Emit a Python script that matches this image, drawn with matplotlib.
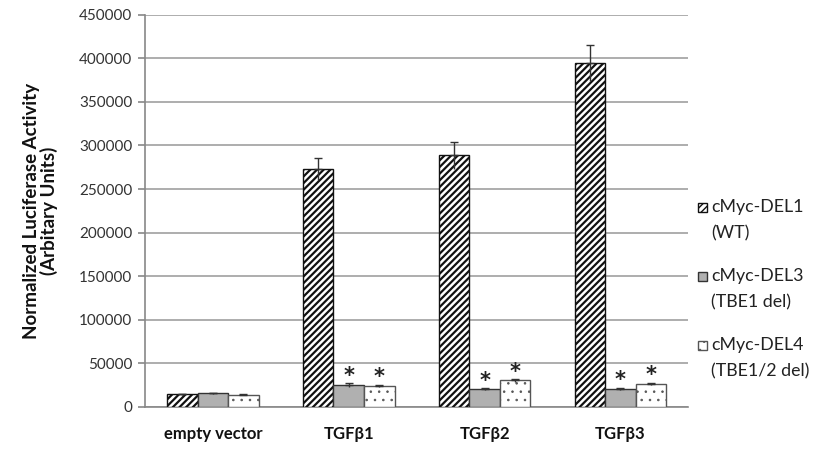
import matplotlib
matplotlib.use("Agg")
import matplotlib.pyplot as plt
from matplotlib.patches import Rectangle
import numpy as np

plt.rcParams['font.family'] = ['Lato', 'DejaVu Sans']

categories = ["empty vector", "TGF\u03b21", "TGF\u03b22", "TGF\u03b23"]
series_names = ["cMyc-DEL1\n(WT)", "cMyc-DEL3\n(TBE1 del)", "cMyc-DEL4\n(TBE1/2 del)"]
del1 = [14300, 273000, 288500, 394700]
del3 = [15400, 25000, 20300, 20700]
del4 = [13800, 23800, 30300, 26000]
del1_err = [800, 13000, 15500, 20500]
del3_err = [700, 1800, 1200, 1200]
del4_err = [700, 1500, 1500, 1500]
significant3 = [False, True, True, True]
significant4 = [False, True, True, True]
yticks = [0, 50000, 100000, 150000, 200000, 250000, 300000, 350000, 400000, 450000]

W, H = 822, 449
fig = plt.figure(figsize=(W / 100, H / 100), dpi=100)
ax = fig.add_axes([0.1764, 0.094, 0.661, 0.873])

x = np.arange(len(categories))
w = 0.225
styles = [
    dict(facecolor="white", hatch="/////", edgecolor="#111111"),
    dict(facecolor="#b0b0b0", hatch="", edgecolor="#333333"),
    dict(facecolor="white", hatch="..", edgecolor="#555555"),
]
hatch_lw = [1.6, 1.0, 0.6]
vals = [del1, del3, del4]
errs = [del1_err, del3_err, del4_err]
for i, (v, e, st) in enumerate(zip(vals, errs, styles)):
    pos = x + (i - 1) * w
    with plt.rc_context({'hatch.linewidth': hatch_lw[i]}):
        ax.bar(pos, v, width=w, linewidth=1.0, zorder=3, **st)
    e = np.array(e)
    ax.errorbar(pos, v, yerr=[np.zeros_like(e), e], fmt="none", ecolor="#333333",
                elinewidth=1.0, capsize=3, capthick=1.0, zorder=4)
    ax.errorbar(pos, v, yerr=[e, np.zeros_like(e)], fmt="none", ecolor="#333333",
                elinewidth=1.0, capsize=0, zorder=4)

star_kw = dict(ha="center", va="center", fontsize=15, fontweight="bold",
               color="#222222", zorder=5, family="DejaVu Sans")
for i, sig in enumerate(significant3):
    if sig:
        ax.text(x[i], del3[i] + del3_err[i] + 8500, "*", **star_kw)
for i, sig in enumerate(significant4):
    if sig:
        ax.text(x[i] + w, del4[i] + del4_err[i] + 8500, "*", **star_kw)

ax.set_xlim(-0.5, len(categories) - 0.5)
ax.set_ylim(0, 450000)
ax.set_yticks(yticks)
ax.set_yticklabels([str(t) for t in yticks], fontsize=11, color="#333333")
ax.yaxis.grid(True, color="#a0a0a0", linewidth=1.2, zorder=0)
ax.set_axisbelow(True)
ax.set_xticks(x)
ax.set_xticklabels(categories, fontsize=12, fontweight="bold", color="#111111")
ax.tick_params(axis="x", length=0, pad=14)
ax.tick_params(axis="y", length=5, color="#888888", width=1.2, pad=4)
for s in ["top", "right"]:
    ax.spines[s].set_visible(False)
ax.spines["left"].set_color("#888888")
ax.spines["left"].set_linewidth(1.2)
ax.spines["bottom"].set_color("#888888")
ax.spines["bottom"].set_linewidth(1.2)

ax.set_ylabel("Normalized Luciferase Activity\n(Arbitary Units)", fontsize=13.5,
              fontweight="bold", color="#111111", labelpad=15, linespacing=1.0)

# legend drawn manually so the swatch aligns with the first text line
leg_first_line_y = [207, 276, 345]
line_gap = 26
for i, name in enumerate(series_names):
    l1, l2 = name.split("\n")
    yc = leg_first_line_y[i]
    with plt.rc_context({'hatch.linewidth': min(hatch_lw[i], 1.0)}):
        fig.patches.append(Rectangle((698 / W, 1 - (yc + 4.5) / H), 9 / W, 9 / H,
                                     transform=fig.transFigure, linewidth=1.0,
                                     **styles[i]))
    fig.text(711 / W, 1 - yc / H, l1, ha="left", va="center", fontsize=12.8,
             color="#222222")
    fig.text(711 / W, 1 - (yc + line_gap) / H, l2, ha="left", va="center",
             fontsize=12.8, color="#222222")

fig.savefig("out.png", dpi=100)
